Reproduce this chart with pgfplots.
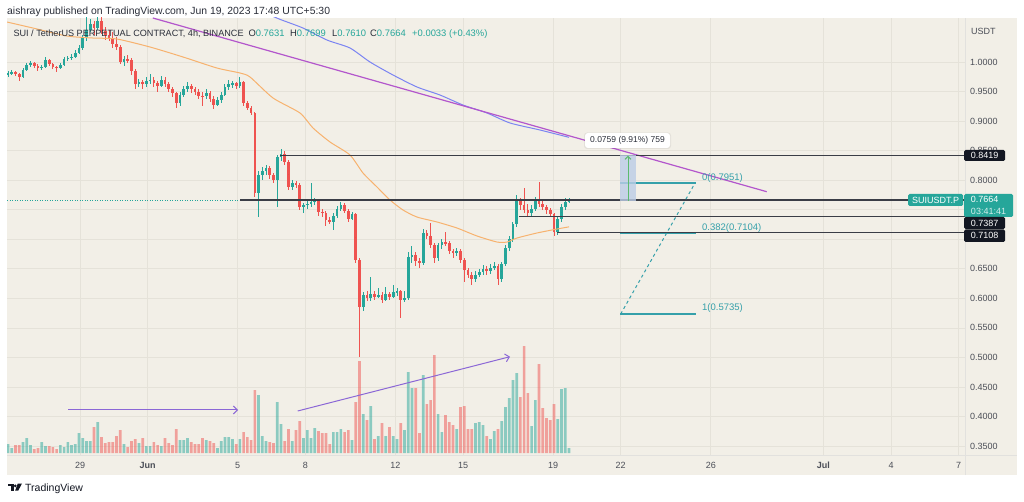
\documentclass[border=0pt]{standalone}
\usepackage{fontspec}
\setmainfont{Liberation Sans}
\usepackage{pgfplots}
\usepackage{pgfplotstable}
\pgfplotsset{compat=1.18}
\usetikzlibrary{arrows.meta}

\definecolor{bg}{HTML}{F2EFE7}
\definecolor{gridc}{HTML}{E5E2D9}
\definecolor{upc}{HTML}{26A69A}
\definecolor{dnc}{HTML}{EF5350}
\definecolor{maor}{HTML}{F7B26E}
\definecolor{mabl}{HTML}{7B84F2}
\definecolor{trend}{HTML}{B356CC}
\definecolor{arr}{HTML}{8B67D6}
\definecolor{hl}{HTML}{3A3D46}
\definecolor{fib}{HTML}{35A0AA}
\definecolor{tickc}{HTML}{4B4E57}
\definecolor{txt}{HTML}{2A2E39}
\definecolor{boxc}{HTML}{131722}
\definecolor{meas}{HTML}{BCCDE6}
\definecolor{measg}{HTML}{5DBB6E}
\newcommand\fs[1]{\fontsize{#1}{#1}\selectfont}

\pgfplotstableread{
x o h l c v
0 0.978 0.985 0.974 0.981 9
1 0.981 0.987 0.978 0.983 5
2 0.983 0.985 0.976 0.979 8
3 0.979 0.982 0.968 0.975 8
4 0.975 0.990 0.973 0.986 11
5 0.986 0.998 0.984 0.995 15
6 0.995 1.002 0.992 0.998 8
7 0.998 1.000 0.990 0.993 4
8 0.993 0.996 0.985 0.990 5
9 0.990 0.995 0.987 0.992 11
10 0.992 1.008 0.990 1.003 7
11 1.003 1.005 0.994 0.997 7
12 0.997 0.999 0.988 0.992 6
13 0.992 0.994 0.983 0.990 4
14 0.990 0.998 0.988 0.995 8
15 0.995 1.009 0.993 1.005 6
16 1.005 1.010 1.001 1.007 11
17 1.007 1.013 1.004 1.009 8
18 1.009 1.020 1.006 1.016 9
19 1.016 1.028 1.013 1.024 20
20 1.024 1.046 1.020 1.040 15
21 1.040 1.078 1.036 1.055 12
22 1.055 1.072 1.050 1.065 12
23 1.065 1.070 1.045 1.058 26
24 1.058 1.085 1.054 1.070 31
25 1.070 1.078 1.048 1.052 16
26 1.052 1.060 1.038 1.045 10
27 1.045 1.055 1.035 1.040 11
28 1.040 1.050 1.024 1.030 11
29 1.030 1.042 1.020 1.025 17
30 1.025 1.028 0.996 1.000 23
31 1.000 1.010 0.994 1.005 9
32 1.005 1.012 0.998 1.003 6
33 1.003 1.006 0.978 0.985 12
34 0.985 0.988 0.955 0.962 14
35 0.962 0.972 0.958 0.966 10
36 0.966 0.970 0.955 0.962 15
37 0.962 0.975 0.958 0.968 7
38 0.968 0.979 0.963 0.970 7
39 0.970 0.974 0.958 0.965 11
40 0.965 0.968 0.950 0.960 8
41 0.960 0.976 0.957 0.970 7
42 0.970 0.974 0.958 0.962 15
43 0.962 0.966 0.950 0.955 10
44 0.955 0.958 0.940 0.948 8
45 0.948 0.950 0.922 0.930 24
46 0.930 0.950 0.926 0.945 13
47 0.945 0.960 0.940 0.955 13
48 0.955 0.966 0.950 0.960 15
49 0.960 0.963 0.948 0.955 11
50 0.955 0.958 0.944 0.950 9
51 0.950 0.955 0.938 0.943 9
52 0.943 0.950 0.925 0.942 15
53 0.942 0.955 0.938 0.948 13
54 0.948 0.951 0.932 0.938 12
55 0.938 0.942 0.920 0.928 10
56 0.928 0.940 0.925 0.935 5
57 0.935 0.950 0.930 0.945 12
58 0.945 0.962 0.942 0.958 16
59 0.958 0.970 0.952 0.962 16
60 0.962 0.968 0.956 0.965 14
61 0.965 0.967 0.954 0.960 9
62 0.960 0.975 0.956 0.966 14
63 0.966 0.968 0.926 0.931 21
64 0.931 0.934 0.918 0.922 16
65 0.922 0.926 0.910 0.914 13
66 0.914 0.916 0.772 0.778 63
67 0.778 0.815 0.738 0.809 58
68 0.809 0.822 0.800 0.815 17
69 0.815 0.826 0.808 0.820 12
70 0.820 0.824 0.802 0.808 11
71 0.808 0.812 0.795 0.800 10
72 0.800 0.843 0.755 0.839 51
73 0.839 0.852 0.832 0.845 29
74 0.845 0.849 0.826 0.831 12
75 0.831 0.834 0.784 0.789 24
76 0.789 0.800 0.784 0.795 12
77 0.795 0.799 0.786 0.792 23
78 0.792 0.795 0.750 0.755 32
79 0.755 0.762 0.745 0.758 15
80 0.758 0.766 0.752 0.760 23
81 0.760 0.795 0.755 0.763 15
82 0.763 0.770 0.758 0.765 25
83 0.765 0.768 0.740 0.746 22
84 0.746 0.752 0.738 0.745 20
85 0.745 0.748 0.722 0.733 20
86 0.733 0.738 0.725 0.730 9
87 0.730 0.745 0.715 0.740 21
88 0.740 0.756 0.736 0.752 21
89 0.752 0.763 0.748 0.758 24
90 0.758 0.762 0.744 0.748 21
91 0.748 0.751 0.730 0.735 23
92 0.735 0.746 0.732 0.742 13
93 0.742 0.745 0.660 0.665 51
94 0.665 0.668 0.500 0.585 92
95 0.585 0.610 0.578 0.606 39
96 0.606 0.612 0.595 0.600 33
97 0.600 0.636 0.596 0.608 47
98 0.608 0.612 0.598 0.603 14
99 0.603 0.618 0.600 0.605 17
100 0.605 0.610 0.592 0.598 30
101 0.598 0.620 0.595 0.607 17
102 0.607 0.610 0.598 0.603 26
103 0.603 0.622 0.600 0.610 17
104 0.610 0.618 0.604 0.612 14
105 0.612 0.614 0.567 0.598 30
106 0.598 0.612 0.594 0.600 23
107 0.600 0.678 0.598 0.670 81
108 0.670 0.688 0.660 0.674 65
109 0.674 0.678 0.655 0.663 65
110 0.663 0.668 0.652 0.660 20
111 0.660 0.718 0.657 0.711 78
112 0.711 0.716 0.700 0.705 49
113 0.705 0.728 0.685 0.690 53
114 0.690 0.694 0.660 0.668 98
115 0.668 0.693 0.664 0.690 39
116 0.690 0.700 0.684 0.696 21
117 0.696 0.712 0.688 0.693 38
118 0.693 0.697 0.675 0.680 31
119 0.680 0.684 0.668 0.677 28
120 0.677 0.686 0.672 0.680 24
121 0.680 0.683 0.660 0.665 46
122 0.665 0.668 0.628 0.648 47
123 0.648 0.652 0.634 0.640 24
124 0.640 0.645 0.622 0.632 24
125 0.632 0.646 0.628 0.640 30
126 0.640 0.650 0.636 0.645 31
127 0.645 0.656 0.640 0.650 28
128 0.650 0.654 0.640 0.646 17
129 0.646 0.658 0.642 0.652 14
130 0.652 0.662 0.648 0.655 22
131 0.655 0.658 0.622 0.632 24
132 0.632 0.662 0.628 0.658 32
133 0.658 0.690 0.655 0.685 46
134 0.685 0.705 0.680 0.700 55
135 0.700 0.730 0.696 0.725 73
136 0.725 0.775 0.720 0.765 80
137 0.765 0.770 0.750 0.758 56
138 0.758 0.787 0.744 0.750 107
139 0.750 0.760 0.740 0.745 60
140 0.745 0.758 0.740 0.752 27
141 0.752 0.772 0.748 0.768 53
142 0.768 0.797 0.755 0.760 89
143 0.760 0.765 0.750 0.755 45
144 0.755 0.758 0.742 0.750 35
145 0.750 0.753 0.738 0.742 33
146 0.742 0.745 0.706 0.712 49
147 0.712 0.740 0.708 0.735 34
148 0.735 0.760 0.730 0.755 64
149 0.755 0.7700 0.750 0.7631 65
150 0.7631 0.7699 0.7610 0.7664 5
}\candles

\pgfplotsset{chartaxis/.style={
  at={(7pt,46pt)}, anchor=south west, scale only axis,
  width=958pt, height=437pt,
  xmin=-0.27, xmax=255.88, ymin=0.3348, ymax=1.0745,
}}

\begin{document}
\begin{tikzpicture}[x=1pt,y=1pt]
\useasboundingbox (0,0) rectangle (1024,501);
\fill[white] (0,0) rectangle (1024,501);
\fill[bg] (7,26) rectangle (1017,483);

% ---------- grid / tick axis ----------
\begin{axis}[chartaxis,
  axis line style={draw=none},
  major tick length=0pt,
  xtick={19.25,37.33,61.42,79.49,103.58,121.66,145.75,163.82,187.91,218.02,236.10,254.17},
  xticklabels={29,\textbf{Jun},5,8,12,15,19,22,26,\textbf{Jul},4,7},
  ytick={0.35,0.40,0.45,0.50,0.55,0.60,0.65,0.70,0.75,0.80,0.85,0.90,0.95,1.00},
  yticklabels={0.3500,0.4000,0.4500,0.5000,0.5500,0.6000,0.6500,{},{},0.8000,0.8500,0.9000,0.9500,1.0000},
  grid=major, major grid style={draw=gridc, line width=0.7pt},
  yticklabel pos=right,
  tick label style={text=tickc, font=\fs{9}},
  yticklabel style={anchor=west, xshift=5pt, inner sep=0pt},
  xticklabel style={anchor=base, yshift=-13pt, inner sep=0pt},
]
\end{axis}

% ---------- volume axis ----------
\begin{axis}[chartaxis, hide axis, ymin=-2, ymax=435]
\addplot[ybar, bar width=2.7pt, bar shift=0pt, draw=none, fill=upc, fill opacity=0.5,
  restrict expr to domain={\thisrow{c}-\thisrow{o}}{0:1}]
  table[x=x, y=v]{\candles};
\addplot[ybar, bar width=2.7pt, bar shift=0pt, draw=none, fill=dnc, fill opacity=0.5,
  restrict expr to domain={\thisrow{c}-\thisrow{o}}{-1:-0.00001}]
  table[x=x, y=v]{\candles};
\end{axis}

% ---------- price axis ----------
\begin{axis}[chartaxis, hide axis,
  candle/.style={only marks, mark=*, mark size=0pt, mark options={draw=none, fill=none}}]
% current price dotted line
\addplot[upc, line width=0.8pt, dash pattern=on 1pt off 1.5pt] coordinates {(-0.27,0.7664) (62.03,0.7664)};
% wicks
\addplot[candle,
  restrict expr to domain={\thisrow{c}-\thisrow{o}}{0:1},
  error bars/.cd, y dir=both, y explicit, error mark=none,
  error bar style={line width=0.9pt, draw=upc}]
  table[x=x, y expr={(\thisrow{h}+\thisrow{l})/2}, y error expr={(\thisrow{h}-\thisrow{l})/2}]{\candles};
\addplot[candle,
  restrict expr to domain={\thisrow{c}-\thisrow{o}}{-1:-0.00001},
  error bars/.cd, y dir=both, y explicit, error mark=none,
  error bar style={line width=0.9pt, draw=dnc}]
  table[x=x, y expr={(\thisrow{h}+\thisrow{l})/2}, y error expr={(\thisrow{h}-\thisrow{l})/2}]{\candles};
% bodies
\addplot[candle,
  restrict expr to domain={\thisrow{c}-\thisrow{o}}{0:1},
  error bars/.cd, y dir=both, y explicit, error mark=none,
  error bar style={line width=2.7pt, draw=upc}]
  table[x=x, y expr={(\thisrow{o}+\thisrow{c})/2}, y error expr={max(abs(\thisrow{c}-\thisrow{o})/2,0.0008)}]{\candles};
\addplot[candle,
  restrict expr to domain={\thisrow{c}-\thisrow{o}}{-1:-0.00001},
  error bars/.cd, y dir=both, y explicit, error mark=none,
  error bar style={line width=2.7pt, draw=dnc}]
  table[x=x, y expr={(\thisrow{o}+\thisrow{c})/2}, y error expr={max(abs(\thisrow{c}-\thisrow{o})/2,0.0008)}]{\candles};

% moving averages
\addplot[maor, line width=1pt, smooth, tension=0.4] coordinates {
(-0.27,1.0677) (6.68,1.0575) (15.78,1.0440) (22.73,1.0406) (29.14,1.0389)
(37.97,1.0254) (46.79,1.0085) (55.88,0.9898) (62.03,0.9814) (64.71,0.9746)
(70.86,0.9391) (78.07,0.9137) (81.55,0.8883) (86.10,0.8646) (91.44,0.8426)
(94.92,0.8121) (98.66,0.7884) (102.14,0.7664) (105.61,0.7495) (109.36,0.7376)
(114.71,0.7292) (120.05,0.7190) (125.40,0.7055) (130.75,0.6953) (133.42,0.6953)
(136.10,0.7021) (141.44,0.7106) (146.79,0.7173) (150,0.7210)};
\addplot[mabl, line width=1pt, smooth, tension=0.4] coordinates {
(70.59,1.0779) (73.18,1.0711) (78.88,1.0575) (85.29,1.0372) (91.44,1.0237)
(96.79,1.0000) (102.94,0.9780) (109.36,0.9577) (115.51,0.9441) (121.66,0.9272)
(128.07,0.9137) (134.22,0.8968) (142.25,0.8849) (150,0.8725)};
% trend line
\addplot[trend, line width=1.2pt] coordinates {(38.72,1.0745) (202.86,0.7805)};

% horizontal levels
\addplot[hl, line width=1.2pt] coordinates {(72.73,0.8419) (255.88,0.8419)};
\addplot[hl, line width=1.2pt] coordinates {(62.03,0.7664) (255.88,0.7664)};
\addplot[hl, line width=1.2pt] coordinates {(136.63,0.7387) (255.88,0.7387)};
\addplot[hl, line width=1.2pt] coordinates {(146.79,0.7108) (255.88,0.7108)};

% fib levels
\addplot[fib, line width=1.2pt] coordinates {(163.64,0.7951) (183.96,0.7951)};
\addplot[fib, line width=1.2pt] coordinates {(163.64,0.7104) (183.96,0.7104)};
\addplot[fib, line width=1.2pt] coordinates {(163.64,0.5735) (183.96,0.5735)};
\addplot[fib, line width=1pt, dash pattern=on 3pt off 3pt] coordinates {(163.82,0.5735) (183.24,0.7900)};
\node[anchor=base west, text=fib, font=\fs{9.5}, inner sep=0pt, yshift=3pt] at (axis cs:185.56,0.7951) {0(0.7951)};
\node[anchor=base west, text=fib, font=\fs{9.5}, inner sep=0pt, yshift=3pt] at (axis cs:185.56,0.7104) {0.382(0.7104)};
\node[anchor=base west, text=fib, font=\fs{9.5}, inner sep=0pt, yshift=3pt] at (axis cs:185.56,0.5735) {1(0.5735)};

% measure box
\fill[meas, opacity=0.8] (axis cs:163.64,0.7647) rectangle (axis cs:167.91,0.8426);
\addplot[measg, line width=1pt, -{Straight Barb[length=3pt,width=6pt]}] coordinates {(165.78,0.7647) (165.78,0.8415)};

% volume arrows
\addplot[arr, line width=1pt, -{Straight Barb[length=4pt,width=8pt]}] coordinates {(16.04,0.4110) (61.50,0.4110)};
\addplot[arr, line width=1pt, -{Straight Barb[length=4pt,width=8pt]}] coordinates {(77.46,0.4093) (134.22,0.5012)};
\end{axis}

% ---------- frame lines ----------
\draw[gridc!80!black!40, line width=0.6pt] (7,46) -- (1017,46);
\draw[gridc!80!black!40, line width=0.6pt] (965,26) -- (965,483);

% ---------- measurement label ----------
\fill[black, opacity=0.06, rounded corners=3pt] (584,352) rectangle (671,368.5);
\fill[white, rounded corners=3pt] (585,353) rectangle (670,368);
\node[text=txt, font=\fs{8.5}] at (627.5,360.5) {0.0759 (9.91\%) 759};

% ---------- header ----------
\node[anchor=base west, inner sep=0pt, text=txt, font=\fs{10.4}] at (7,486.5) {aishray published on TradingView.com, Jun 19, 2023 17:48 UTC+5:30};
\node[anchor=base west, inner sep=0pt, text=txt, font=\fs{9.1}] at (13.3,464.5) {SUI / TetherUS PERPETUAL CONTRACT, 4h, BINANCE};
\node[anchor=base west, inner sep=0pt, font=\fs{9.4}] at (248.3,464.5) {\textcolor{txt}{O}\textcolor{upc}{0.7631}};
\node[anchor=base west, inner sep=0pt, font=\fs{9.4}] at (290,464.5) {\textcolor{txt}{H}\textcolor{upc}{0.7699}};
\node[anchor=base west, inner sep=0pt, font=\fs{9.4}] at (332,464.5) {\textcolor{txt}{L}\textcolor{upc}{0.7610}};
\node[anchor=base west, inner sep=0pt, font=\fs{9.4}] at (370,464.5) {\textcolor{txt}{C}\textcolor{upc}{0.7664}};
\node[anchor=base west, inner sep=0pt, font=\fs{9.4}, text=upc] at (412,464.5) {+0.0033 (+0.43\%)};

% ---------- right axis labels ----------
\node[anchor=west, inner sep=0pt, text=tickc, font=\fs{9}] at (971,470) {USDT};
\fill[boxc, rounded corners=1.5pt] (964,340) rectangle (1005,351);
\node[text=white, font=\fs{9}] at (984.5,345.6) {0.8419};
\fill[upc, rounded corners=1.5pt] (908,295) rectangle (963,307);
\node[text=white, font=\fs{9}] at (935.5,301) {SUIUSDT.P};
\fill[upc, rounded corners=1.5pt] (964,284) rectangle (1013,307);
\node[text=white, font=\fs{9}] at (984.5,301.5) {0.7664};
\node[text=white!80!upc, font=\fs{9}] at (988.5,290) {03:41:41};
\fill[boxc, rounded corners=1.5pt] (964,272) rectangle (1005,284);
\node[text=white, font=\fs{9}] at (984.5,278) {0.7387};
\fill[boxc, rounded corners=1.5pt] (964,259) rectangle (1005,271.5);
\node[text=white, font=\fs{9}] at (984.5,265.3) {0.7108};

% ---------- footer logo ----------
\fill[boxc] (7.5,17.5) rectangle (13.5,15);
\fill[boxc] (10.5,17.5) rectangle (13.5,10.5);
\fill[boxc] (15.3,15.2) circle (1.5);
\fill[boxc] (17.8,17.5) -- (22,17.5) -- (18.3,10.5) -- (15.2,10.5) -- cycle;
\node[anchor=base west, inner sep=0pt, text=boxc, font=\fs{10.5}] at (25,9.7) {TradingView};
\end{tikzpicture}
\end{document}
